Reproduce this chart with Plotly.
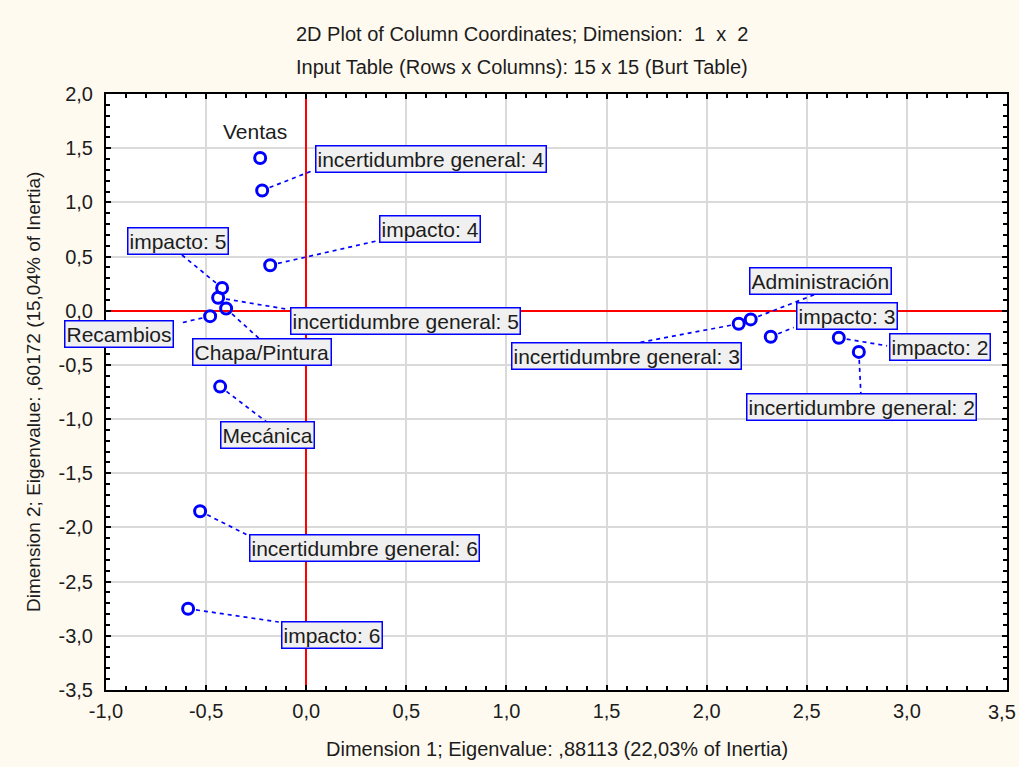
import math
import plotly.graph_objects as go

# ---- data -------------------------------------------------------------
labels = [
    "Ventas",
    "incertidumbre general: 4",
    "impacto: 4",
    "impacto: 5",
    "incertidumbre general: 5",
    "Chapa/Pintura",
    "Recambios",
    "Mecánica",
    "incertidumbre general: 6",
    "impacto: 6",
    "incertidumbre general: 3",
    "Administración",
    "impacto: 3",
    "impacto: 2",
    "incertidumbre general: 2",
]
dim1 = [-0.23, -0.22, -0.18, -0.42, -0.44, -0.40, -0.48, -0.43, -0.53, -0.59,
        2.16, 2.22, 2.32, 2.66, 2.76]
dim2 = [1.41, 1.11, 0.42, 0.21, 0.12, 0.02, -0.05, -0.70, -1.85, -2.75,
        -0.12, -0.08, -0.24, -0.25, -0.38]

x_tickvals = [-1.0, -0.5, 0.0, 0.5, 1.0, 1.5, 2.0, 2.5, 3.0, 3.5]
x_ticktext = ["-1,0", "-0,5", "0,0", "0,5", "1,0", "1,5", "2,0", "2,5", "3,0", "3,5"]
y_tickvals = [-3.5, -3.0, -2.5, -2.0, -1.5, -1.0, -0.5, 0.0, 0.5, 1.0, 1.5, 2.0]
y_ticktext = ["-3,5", "-3,0", "-2,5", "-2,0", "-1,5", "-1,0", "-0,5", "0,0",
              "0,5", "1,0", "1,5", "2,0"]

title_line1 = "2D Plot of Column Coordinates; Dimension:  1  x  2"
title_line2 = "Input Table (Rows x Columns): 15 x 15 (Burt Table)"
x_title = "Dimension 1; Eigenvalue: ,88113 (22,03% of Inertia)"
y_title = "Dimension 2; Eigenvalue: ,60172 (15,04% of Inertia)"

# ---- label layout (pixel offsets from each point; y grows downward) ----
label_dx = [-5.5, 168.5, 160, -43.8, 187.2, 35.5, -91, 47.7, 164.5, 144.2,
            -111.8, 69.5, 76.5, 100.8, 3]
label_dy = [-26, -31.8, -36.3, -47.4, 22.8, 43, 17.8, 48.8, 36.6, 26.3,
            32.7, -38.5, -21.2, 9, 54.9]
leader_dx = [None, 49.7, 106.7, -42.3, 67.7, 33, -30, 47.7, 46.3, 90.7,
             -98.3, 67, 23, 48.3, 2]
leader_dy = [None, -19.5, -24.3, -34.7, 11.3, 30, 7, 36.3, 23.3, 13.3,
             18.7, -26, -9.2, 8, 41.7]
boxed = [False] + [True] * 14

BLUE = "#0000ff"
FONT = "Liberation Sans, Arial, sans-serif"
TEXT = "#1c1c1c"

fig = go.Figure()
fig.add_trace(go.Scatter(
    x=dim1, y=dim2, mode="markers", text=labels, hoverinfo="text",
    marker=dict(symbol="circle-open", size=11, color=BLUE,
                line=dict(width=3, color=BLUE)),
    showlegend=False, cliponaxis=False,
))

shapes = []
annotations = []
for i, lab in enumerate(labels):
    if leader_dx[i] is not None:
        ex, ey = leader_dx[i], leader_dy[i]
        d = math.hypot(ex, ey)
        sx, sy = ex * 8 / d, ey * 8 / d
        shapes.append(dict(
            type="line", xref="x", yref="y",
            xsizemode="pixel", ysizemode="pixel",
            xanchor=dim1[i], yanchor=dim2[i],
            x0=sx, y0=-sy, x1=ex, y1=-ey,
            line=dict(color=BLUE, width=1.7, dash="4px,4px"),
            layer="above",
        ))
    a = dict(
        x=dim1[i], y=dim2[i], xref="x", yref="y", text=lab, showarrow=False,
        xanchor="center", yanchor="middle",
        xshift=label_dx[i], yshift=-label_dy[i],
        font=dict(family=FONT, size=21, color=TEXT),
    )
    if boxed[i]:
        a.update(bgcolor="#f0f0f0", bordercolor=BLUE, borderwidth=1.5, borderpad=1)
    annotations.append(a)

# last x tick label drawn right-aligned so it stays inside the page
x_tick_axis_text = x_ticktext[:-1] + [""]
annotations.append(dict(
    x=x_tickvals[-1], y=0, xref="x", yref="paper", text=x_ticktext[-1],
    showarrow=False, xanchor="right", yanchor="middle", xshift=11, yshift=-22,
    font=dict(family=FONT, size=20, color=TEXT),
))

# titles
annotations += [
    dict(x=0.4617, y=1, xref="paper", yref="paper", yshift=60, text=title_line1,
         showarrow=False, xanchor="center", yanchor="middle",
         font=dict(family=FONT, size=20, color=TEXT)),
    dict(x=0.4617, y=1, xref="paper", yref="paper", yshift=27, text=title_line2,
         showarrow=False, xanchor="center", yanchor="middle",
         font=dict(family=FONT, size=20, color=TEXT)),
    dict(x=0.5, y=0, xref="paper", yref="paper", yshift=-59, text=x_title,
         showarrow=False, xanchor="center", yanchor="middle",
         font=dict(family=FONT, size=20, color=TEXT)),
    dict(x=0, y=0.5, xref="paper", yref="paper", xshift=-73, text=y_title,
         textangle=-90, showarrow=False, xanchor="center", yanchor="middle",
         font=dict(family=FONT, size=19, color=TEXT)),
]

axis_common = dict(
    automargin=False, ticklabeloverflow="allow",
    showline=True, linecolor="black", linewidth=2, mirror="allticks",
    ticks="inside", ticklen=5, tickwidth=1.5, tickcolor="black",
    showgrid=True, gridcolor="#dadada", gridwidth=1.5,
    zeroline=True, zerolinecolor="red", zerolinewidth=1.5,
    tickfont=dict(family=FONT, size=20, color=TEXT),
)

fig.update_layout(
    template="none",
    width=1019, height=767,
    margin=dict(l=106, r=12, t=94, b=77, pad=0, autoexpand=False),
    paper_bgcolor="#fffaf0", plot_bgcolor="white",
    xaxis=dict(range=[-1.0, 3.5], tickmode="array", tickvals=x_tickvals,
               ticktext=x_tick_axis_text, ticklabelstandoff=2,
               minor=dict(tickmode="linear", tick0=-1.0, dtick=0.1,
                          ticks="inside", ticklen=4, tickcolor="black",
                          tickwidth=1.5, showgrid=False),
               **axis_common),
    yaxis=dict(range=[-3.5, 2.0], tickmode="array", tickvals=y_tickvals,
               ticktext=y_ticktext, ticklabelstandoff=7,
               minor=dict(tickmode="linear", tick0=-3.5, dtick=0.1,
                          ticks="inside", ticklen=4, tickcolor="black",
                          tickwidth=1.5, showgrid=False),
               **axis_common),
    shapes=shapes, annotations=annotations,
    showlegend=False,
)

fig.write_html(
    "out.html",
    config={"responsive": False, "displayModeBar": False},
    default_width="1019px", default_height="767px",
    post_script="document.body.style.margin='0';document.body.style.overflow='hidden';"
                "document.documentElement.style.overflow='hidden';",
)
